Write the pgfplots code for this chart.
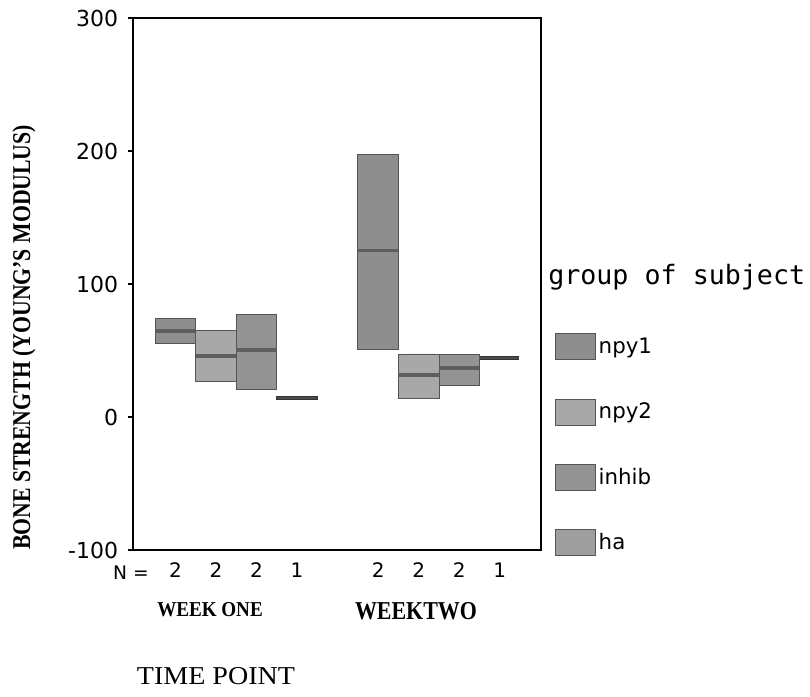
\documentclass[border=0pt]{standalone}
\usepackage{fontspec}
\setmainfont{Liberation Serif}
\newfontfamily\dejavu{DejaVu Sans}
\newfontfamily\dejamono{DejaVu Sans Mono}
\usepackage{pgfplots}
\usepgfplotslibrary{statistics}
\pgfplotsset{compat=1.18}
\definecolor{cnpyone}{HTML}{8E8E8E}
\definecolor{cnpytwo}{HTML}{A8A8A8}
\definecolor{cinhib}{HTML}{939393}
\definecolor{cha}{HTML}{9E9E9E}
\definecolor{edge}{HTML}{555555}
\definecolor{medc}{HTML}{5E5E5E}
\begin{document}
\begin{tikzpicture}
\path[use as bounding box] (-99.75pt,-109.5pt) rectangle (507.75pt,412.5pt);
\begin{axis}[
  at={(0pt,0pt)}, anchor=south west,
  scale only axis, width=306pt, height=399pt,
  xmin=-0.05, xmax=10.02, ymin=-100, ymax=300,
  axis line style={line width=1.2pt, black},
  ytick={-100,0,100,200,300},
  /pgf/number format/assume math mode=true,
  yticklabel style={font=\dejavu\fontsize{16.5}{19}\selectfont, anchor=east, inner sep=0pt, xshift=-7pt},
  xtick={1,2,3,4,6,7,8,9},
  xticklabels={2,2,2,1,2,2,2,1},
  xticklabel style={font=\dejavu\fontsize{15}{17}\selectfont, anchor=center, inner sep=0pt, yshift=-11.25pt},
  x tick style={draw=none},
  extra x ticks={2.5,7.5},
  extra x tick labels={},
  extra x tick style={tick style={draw=black, line width=1pt}, major tick length=4pt, tick align=outside},
  y tick style={draw=black, line width=1pt},
  major tick length=4pt, tick align=outside,
  ytick pos=left, xtick pos=bottom,
  boxplot/draw direction=y,
  boxplot/every median/.style={draw=medc, line width=2.6pt},
  legend style={at={(axis description cs:1.0343,0.4079)}, anchor=north west, draw=none, fill=none,
    inner sep=0pt, font=\dejavu\fontsize{16}{18}\selectfont, row sep=28.9pt,
    nodes={inner sep=2pt, anchor=west}},
  legend cell align=left,
]
% WEEK ONE
\addplot[forget plot, fill=cnpyone, draw=edge, line width=0.6pt, boxplot prepared={draw position=1, box extend=1,
  lower whisker=55.7, lower quartile=55.7, median=64.8, upper quartile=73.8, upper whisker=73.8}] coordinates {};
\addplot[forget plot, fill=cnpytwo, draw=edge, line width=0.6pt, boxplot prepared={draw position=2, box extend=1,
  lower whisker=27.1, lower quartile=27.1, median=45.9, upper quartile=64.8, upper whisker=64.8}] coordinates {};
\addplot[forget plot, fill=cinhib, draw=edge, line width=0.6pt, boxplot prepared={draw position=3, box extend=1,
  lower whisker=21.1, lower quartile=21.1, median=50.5, upper quartile=76.8, upper whisker=76.8}] coordinates {};
\addplot[forget plot, fill=cha, draw=black!80, line width=0.8pt, boxplot prepared={draw position=4, box extend=1,
  lower whisker=13.0, lower quartile=13.0, median=14.3, upper quartile=15.6, upper whisker=15.6},
  boxplot/every median/.style={draw=black!70, line width=1pt}] coordinates {};
% WEEK TWO
\addplot[forget plot, fill=cnpyone, draw=edge, line width=0.6pt, boxplot prepared={draw position=6, box extend=1,
  lower whisker=51.2, lower quartile=51.2, median=125.0, upper quartile=197.3, upper whisker=197.3}] coordinates {};
\addplot[forget plot, fill=cnpytwo, draw=edge, line width=0.6pt, boxplot prepared={draw position=7, box extend=1,
  lower whisker=14.3, lower quartile=14.3, median=31.6, upper quartile=47.4, upper whisker=47.4}] coordinates {};
\addplot[forget plot, fill=cinhib, draw=edge, line width=0.6pt, boxplot prepared={draw position=8, box extend=1,
  lower whisker=24.1, lower quartile=24.1, median=36.9, upper quartile=46.7, upper whisker=46.7}] coordinates {};
\addplot[forget plot, fill=cha, draw=black!80, line width=0.8pt, boxplot prepared={draw position=9, box extend=0.95,
  lower whisker=43.0, lower quartile=43.0, median=44.4, upper quartile=45.8, upper whisker=45.8},
  boxplot/every median/.style={draw=black!70, line width=1pt}] coordinates {};
% legend
\addlegendimage{legend image code/.code={\draw[fill=cnpyone, draw=edge, line width=0.6pt] (0pt,-9.75pt) rectangle (30pt,9.75pt);}}
\addlegendentry{npy1}
\addlegendimage{legend image code/.code={\draw[fill=cnpytwo, draw=edge, line width=0.6pt] (0pt,-9.75pt) rectangle (30pt,9.75pt);}}
\addlegendentry{npy2}
\addlegendimage{legend image code/.code={\draw[fill=cinhib, draw=edge, line width=0.6pt] (0pt,-9.75pt) rectangle (30pt,9.75pt);}}
\addlegendentry{inhib}
\addlegendimage{legend image code/.code={\draw[fill=cha, draw=edge, line width=0.6pt] (0pt,-9.75pt) rectangle (30pt,9.75pt);}}
\addlegendentry{ha}
\end{axis}
\node[anchor=center, rotate=90] at (-81.75pt,159.4pt)
  {\scalebox{0.85}[1]{\fontsize{19.2}{22}\selectfont\bfseries BONE STRENGTH (YOUNG'S MODULUS)}};
\node[anchor=center, inner sep=0pt] at (-1.5pt,-16.9pt) {\dejavu\fontsize{14}{16}\selectfont N =};
\node[anchor=center, inner sep=0pt] at (57.75pt,-45pt) {\scalebox{0.9}[1]{\fontsize{15.9}{18}\selectfont\bfseries WEEK ONE}};
\node[anchor=center, inner sep=0pt] at (212.25pt,-46.1pt) {\scalebox{0.853}[1]{\fontsize{19.3}{22}\selectfont\bfseries WEEKTWO}};
\node[anchor=center, inner sep=0pt] at (62.25pt,-94.5pt) {\scalebox{1.09}[1]{\fontsize{19.3}{22}\selectfont TIME POINT}};
\node[anchor=base west, inner sep=0pt] at (311.25pt,198.75pt) {\dejamono\fontsize{20}{24}\selectfont group of subject};
\end{tikzpicture}
\end{document}
